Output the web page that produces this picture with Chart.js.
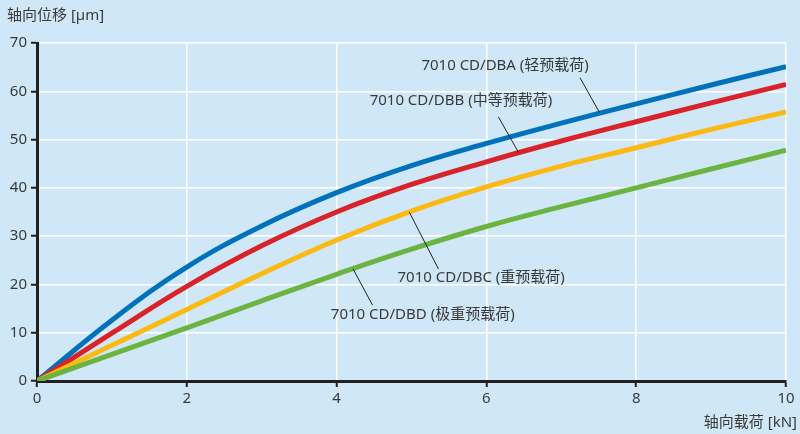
<!DOCTYPE html>
<html>
<head>
<meta charset="utf-8">
<script src="https://cdn.jsdelivr.net/npm/chart.js@4"></script>
<style>
  html, body { margin: 0; padding: 0; background: #d0e7f7; }
  #wrap { width: 800px; height: 434px; }
</style>
</head>
<body>
<div id="wrap"><canvas id="grafico" width="800" height="434"></canvas></div>
<script>
// datos
const cargas = [0, 1, 2, 3, 4, 5, 6, 7, 8, 9, 10];
const dba = [0, 12.6, 23.6, 32.1, 39.0, 44.6, 49.2, 53.4, 57.4, 61.3, 65.1];
const dbb = [0, 9.9, 19.6, 28.0, 35.0, 40.7, 45.4, 49.7, 53.7, 57.6, 61.4];
const dbc = [0, 7.4, 14.8, 22.2, 29.2, 35.2, 40.2, 44.5, 48.3, 52.1, 55.7];
const dbd = [0, 5.5, 11.0, 16.6, 22.1, 27.3, 32.0, 36.1, 40.0, 43.9, 47.8];

const nombres = ['7010 CD/DBA (轻预载荷)', '7010 CD/DBB (中等预载荷)', '7010 CD/DBC (重预载荷)', '7010 CD/DBD (极重预载荷)'];
const colores = ['#0071bc', '#d8232a', '#fdb913', '#6cb33f'];

const ticksX = [0, 2, 4, 6, 8, 10];
const tituloY = '轴向位移 [µm]';
const tituloX = '轴向载荷 [kN]';

// etiquetas: centro del texto y linea guia (en unidades de datos)
const etiquetas = [
  { t: nombres[0], x: 6.25, y: 65.2, l: [7.25, 62.8, 7.51, 55.6] },
  { t: nombres[1], x: 5.66, y: 58.0, l: [6.16, 54.7, 6.43, 47.3] },
  { t: nombres[2], x: 5.93, y: 21.3, l: [4.97, 35.0, 5.36, 23.2] },
  { t: nombres[3], x: 5.15, y: 13.7, l: [4.22, 23.2, 4.48, 15.7] }
];

const fuente = '"Noto Sans", "Noto Sans CJK SC", sans-serif';
const gris = '#3a3a3a';

function serie(vals) {
  return vals.map((v, i) => ({ x: cargas[i], y: v }));
}

const textos = {
  id: 'textos',
  afterDraw(chart) {
    const c = chart.ctx;
    const sx = chart.scales.x, sy = chart.scales.y;
    c.save();
    c.font = '15px ' + fuente;
    c.fillStyle = gris;
    c.textBaseline = 'middle';
    // titulos de ejes
    c.textAlign = 'left';
    c.fillText(tituloY, 7, 16);
    c.textAlign = 'right';
    c.fillText(tituloX, 797, 423);
    // etiquetas de series
    c.strokeStyle = '#231f20';
    c.lineWidth = 1;
    etiquetas.forEach(e => {
      c.textAlign = 'center';
      c.fillText(e.t, sx.getPixelForValue(e.x), sy.getPixelForValue(e.y));
      c.beginPath();
      c.moveTo(sx.getPixelForValue(e.l[0]), sy.getPixelForValue(e.l[1]));
      c.lineTo(sx.getPixelForValue(e.l[2]), sy.getPixelForValue(e.l[3]));
      c.stroke();
    });
    c.restore();
  }
};

new Chart(document.getElementById('grafico'), {
  type: 'line',
  data: {
    datasets: [dba, dbb, dbc, dbd].map((d, i) => ({
      label: nombres[i],
      data: serie(d),
      borderColor: colores[i],
      borderWidth: 5,
      pointRadius: 0,
      tension: 0.4,
      fill: false
    })).reverse()
  },
  options: {
    responsive: false,
    animation: false,
    layout: { padding: { left: 0, top: 43, right: 14, bottom: 0 } },
    plugins: { legend: { display: false }, tooltip: { enabled: false } },
    scales: {
      x: {
        type: 'linear',
        min: 0, max: 10,
        afterFit: s => { s.height = 53; },
        afterBuildTicks: s => { s.ticks = ticksX.map(v => ({ value: v })); },
        grid: { color: '#ffffff', lineWidth: 1.5, tickColor: '#231f20', tickWidth: 2, tickLength: 6 },
        border: { color: '#231f20', width: 3 },
        ticks: { color: gris, font: { family: fuente, size: 15 }, padding: 3, maxRotation: 0 }
      },
      y: {
        min: 0, max: 70,
        afterFit: s => { s.width = 37; },
        ticks: { stepSize: 10, color: gris, font: { family: fuente, size: 15 }, padding: 4 },
        grid: { color: '#ffffff', lineWidth: 1.5, tickColor: '#231f20', tickWidth: 2, tickLength: 6 },
        border: { color: '#231f20', width: 3 }
      }
    }
  },
  plugins: [textos]
});
</script>
</body>
</html>
